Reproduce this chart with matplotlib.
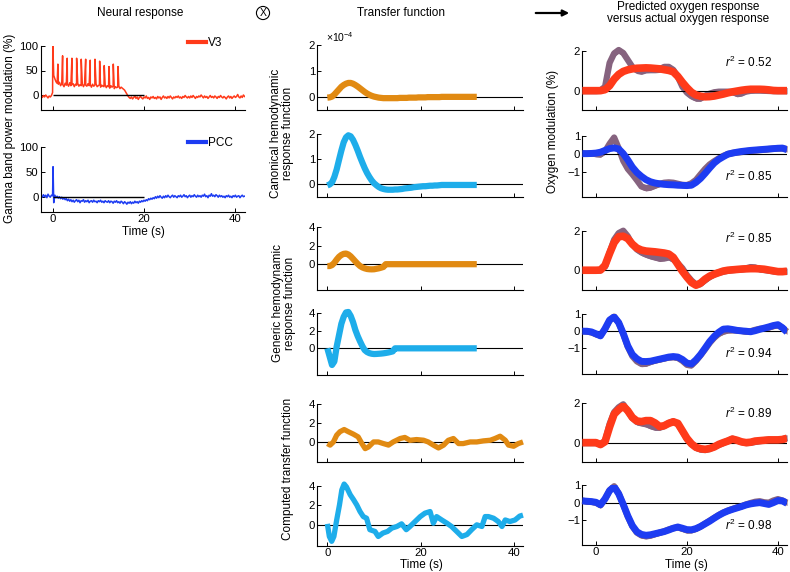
import matplotlib.pyplot as plt
import numpy as np
from matplotlib.lines import Line2D
from matplotlib.patches import FancyArrowPatch

plt.rcParams['font.family'] = ['Liberation Sans', 'DejaVu Sans']
plt.rcParams['mathtext.fontset'] = 'custom'
plt.rcParams['mathtext.rm'] = 'Liberation Sans'
plt.rcParams['mathtext.it'] = 'Liberation Sans:italic'

# ---------------- data ----------------
# neural gamma-band responses, sampled every 0.25 s from -2.5 to 42 s
neural_t = np.arange(-2.5, 42.01, 0.25)
v3_vals = [-2, -5, -1, -4, 0, -3, -6, -2, -4, -1,
           5, 40, 33, 27, 24, 22, 26, 19, 23, 21, 17, 24, 20, 22, 18, 25, 19, 21, 23, 17,
           22, 20, 24, 18, 21, 19, 23, 17, 22, 20, 18, 23, 19, 21, 16, 22, 18, 20, 23, 17,
           19, 21, 16, 20, 18, 17, 21, 15, 19, 17, 14, 19, 16, 18, 13, 17, 15, 16, 18, 13,
           16, 14, 12, 10,
           6, 2, -2, -5, -7,
           -4, -8, -5, -2, -7, -4, -9, -5, -3, -6,
           -8, -4, -6, -2, -7, -5, -9, -4, -6, -3,
           -7, -5, -8, -3, -6, -4, -9, -5, -2, -6,
           -4, -7, -3, -6, -2, -5, -8, -4, -6, -3,
           -5, -2, -6, -4, -7, -3, -5, -1, -4, -6,
           -3, -6, -2, -5, -1, -4, -7, -3, -5, -2,
           -4, 0, -3, -6, -2, -5, -3, -7, -4, -1,
           -5, -3, -6, -2, -4, -7, -3, -5, -1, -4,
           -6, -3, -5, -8, -4, -2, -6, -3, -7, -4,
           -2, -5, -3, 1, -4, -6, -2, -5, 0, -3]
v3_spike_t = [0.05, 1.16, 2.19, 3.2, 4.23, 5.26, 6.27, 7.24, 8.24, 9.27, 10.3, 11.3, 12.34, 13.28, 14.31]
v3_spike_h = [105, 63, 80, 75, 75, 75, 73, 73, 71, 73, 69, 60, 58, 63, 58]

pcc_vals = [2, -1, 4, 0, 3, -2, 5, 1, -1, 3,
            2, -12, 3, -2, 1, -3, 0, -4, -1, -5, -2, -6, -4, -8, -5, -9, -6, -10, -7, -11,
            -8, -6, -10, -7, -12, -8, -9, -6, -11, -8, -10, -7, -12, -9, -8, -11, -7, -10, -9, -12,
            -8, -10, -7, -11, -9, -12, -8, -10, -11, -8, -12, -9, -10, -13, -9, -11, -8, -12, -10, -13,
            -9, -11, -14, -10,
            -12, -15, -11, -13, -10,
            -14, -11, -13, -9, -12, -10, -13, -9, -11, -8,
            -10, -7, -9, -6, -8, -4, -6, -3, -5, -2,
            -4, 0, -3, 1, -2, 2, -1, -3, 1, -2,
            2, -1, 3, 0, -2, 1, 3, -1, 2, 0,
            -2, 2, 0, 3, -1, 1, 4, 0, 2, -2,
            1, 3, -1, 2, 0, 4, 1, -1, 3, 0,
            2, -1, 3, 1, 5, 0, 2, -2, 3, 1,
            6, 1, 3, 0, 4, 2, -1, 3, 0, 2,
            -1, 1, -2, 2, 0, 3, -1, 1, -2, 2,
            0, 3, -1, 1, 2, -2, 1, 3, 0, 1]
pcc_spike_t = [0.1]
pcc_spike_h = [60]
stim_on, stim_off = 0, 20

# transfer functions (0.5 s steps, 0..32 s)
hrf_t = np.arange(0, 32.01, 0.5)
canon_v3 = [-0.04, -0.03, 0.0, 0.08, 0.18, 0.28, 0.38, 0.45, 0.5, 0.53,
            0.53, 0.5, 0.45, 0.39, 0.32, 0.25, 0.18, 0.12, 0.07, 0.03,
            0.0, -0.02, -0.04, -0.05, -0.06,
            -0.06, -0.06, -0.06, -0.06, -0.06, -0.06,
            -0.05, -0.05, -0.05, -0.05,
            -0.04, -0.04, -0.04, -0.04,
            -0.03, -0.03, -0.03, -0.03,
            -0.02, -0.02, -0.02, -0.02, -0.02, -0.02,
            -0.01, -0.01, -0.01, -0.01, -0.01, -0.01, -0.01, -0.01,
            -0.01, -0.01, -0.01, -0.01, -0.01, -0.01, -0.01, -0.01]
canon_pcc = [-0.04, 0.0, 0.08, 0.3, 0.6, 0.98, 1.35, 1.68, 1.88, 1.96,
             1.92, 1.78, 1.58, 1.35, 1.1, 0.87, 0.65, 0.46, 0.3, 0.16,
             0.05, -0.03, -0.1, -0.15, -0.18, -0.2, -0.21, -0.21, -0.21, -0.2,
             -0.2, -0.19, -0.18, -0.16, -0.15, -0.14, -0.13, -0.11, -0.1, -0.09,
             -0.08, -0.07, -0.07, -0.06, -0.05, -0.05, -0.04, -0.04, -0.03,
             -0.02, -0.02, -0.02, -0.02, -0.02, -0.02, -0.02, -0.02,
             -0.02, -0.02, -0.02, -0.02, -0.02, -0.02, -0.02, -0.02]
generic_v3 = [-0.2, -0.2, -0.1, 0.15, 0.5, 0.8, 1.0, 1.12, 1.15, 1.05,
              0.85, 0.58, 0.3, 0.03, -0.2, -0.35, -0.45, -0.52, -0.55, -0.56,
              -0.55, -0.5, -0.45, -0.38, -0.3,
              0, 0, 0, 0, 0, 0, 0, 0, 0, 0, 0, 0, 0, 0, 0, 0, 0, 0, 0, 0,
              0, 0, 0, 0, 0, 0, 0, 0, 0, 0, 0, 0, 0, 0, 0, 0, 0, 0, 0, 0]
generic_pcc = [0, -0.95, -1.9, -1.5, 0.2, 1.5, 2.8, 3.6, 4.1, 4.15,
               3.7, 3.0, 2.1, 1.4, 0.8, 0.25, -0.2, -0.42, -0.55, -0.62,
               -0.65, -0.64, -0.62, -0.6, -0.57, -0.53, -0.48, -0.42, -0.35,
               0, 0, 0, 0, 0, 0, 0, 0, 0, 0, 0, 0, 0, 0, 0, 0, 0, 0,
               0, 0, 0, 0, 0, 0, 0, 0, 0, 0, 0, 0, 0, 0, 0, 0, 0, 0]
comp_v3_t = [0, 0.6, 1.3, 2.0, 2.7, 3.6, 4.5, 5.6, 6.6, 7.4, 8.1, 8.8, 9.9, 10.9, 12.0,
             13.1, 14.1, 15.6, 16.6, 17.7, 19.1, 20.6, 21.6, 22.7, 23.8, 24.9, 25.9, 27.0,
             28.1, 29.1, 30.6, 32.0, 33.4, 34.9, 35.9, 37.0, 38.1, 38.8, 39.9, 40.9, 41.9]
comp_v3 = [-0.14, -0.3, 0.03, 0.74, 1.1, 1.33, 1.1, 0.84, 0.56, -0.14, -0.67, -0.5, 0.03, 0.03, -0.14,
           -0.3, 0.03, 0.39, 0.5, 0.2, 0.28, 0.21, 0.03, -0.3, -0.6, -0.3, 0.2, 0.39,
           -0.14, -0.14, 0.03, 0.03, 0.14, 0.21, 0.39, 0.63, 0.21, -0.3, -0.42, -0.14, 0.03]
comp_pcc_t = [0, 0.43, 0.93, 1.4, 2.0, 2.6, 3.1, 3.6, 4.1, 4.9, 5.6, 6.3, 7.0, 7.7, 8.4,
              9.1, 10.2, 10.9, 11.9, 12.9, 13.8, 14.9, 15.9, 16.9, 17.7, 18.8, 19.9, 20.9,
              22.0, 22.7, 23.4, 24.5, 25.6, 26.6, 27.7, 28.8, 29.9, 30.9, 32.0, 33.1, 33.8,
              34.5, 35.6, 36.6, 37.4, 38.1, 39.1, 40.2, 41.2, 41.9]
comp_pcc = [0.1, -1.2, -1.7, -1.2, 0.5, 2.05, 3.6, 4.2, 3.9, 3.1, 2.6, 2.05, 1.37, 0.85, 0.68,
            -0.5, -0.68, -1.2, -0.85, -0.68, -0.34, -0.17, 0.1, -0.5, -0.17, 0.34, 0.85, 1.2,
            1.37, 0.17, 0.85, 0.5, 0.17, -0.17, -0.68, -1.2, -1.0, -0.5, 0.0, -0.17, 0.85,
            0.85, 0.68, 0.34, -0.17, 0.5, 0.34, 0.5, 0.9, 1.0]

# oxygen responses (1 s steps, -3..42 s): predicted and measured
oxy_t = np.arange(-3, 43)
pred_canon_v3 = [0, 0, 0, 0, 0, 0.05, 0.25, 0.58, 0.82, 0.97,
                 1.05, 1.1, 1.13, 1.14, 1.15, 1.14, 1.12, 1.1, 1.06, 1.02,
                 0.95, 0.72, 0.42, 0.15, -0.08, -0.22, -0.28, -0.31, -0.3, -0.27,
                 -0.22, -0.17, -0.11, -0.06, -0.02, 0.02, 0.05, 0.07, 0.07, 0.07,
                 0.06, 0.04, 0.01, 0, 0, 0]
meas_v3 = [0, 0, 0, 0, 0.02, 0.2, 1.4, 1.88, 2.05, 1.9,
           1.55, 1.2, 1.02, 0.98, 1.05, 1.06, 1.06, 1.08, 1.2, 1.2,
           1.05, 0.7, 0.2, -0.1, -0.28, -0.38, -0.38, -0.25, -0.15, -0.08,
           -0.05, -0.05, -0.05, -0.06, -0.15, -0.12, -0.02, 0.02, 0.03, 0.03,
           0.02, 0.01, 0, 0, 0, 0]
pred_canon_pcc = [0, 0, 0.01, 0.03, 0.08, 0.18, 0.28, 0.32, 0.26, 0.0,
                  -0.35, -0.75, -1.05, -1.27, -1.45, -1.57, -1.64, -1.68, -1.71, -1.73,
                  -1.74, -1.76, -1.77, -1.78, -1.76, -1.6, -1.38, -1.1, -0.8, -0.52,
                  -0.32, -0.17, -0.03, 0.03, 0.08, 0.12, 0.15, 0.18, 0.2, 0.22,
                  0.24, 0.26, 0.28, 0.3, 0.31, 0.22]
meas_pcc = [0.02, 0.0, 0.02, -0.02, -0.04, 0.13, 0.55, 0.9, 0.3, -0.4,
            -0.85, -1.15, -1.48, -1.83, -1.92, -1.88, -1.78, -1.68, -1.62, -1.6,
            -1.62, -1.68, -1.74, -1.75, -1.65, -1.46, -1.15, -0.85, -0.6, -0.42,
            -0.26, -0.12, -0.02, 0.04, 0.08, 0.1, 0.14, 0.17, 0.19, 0.21,
            0.23, 0.26, 0.28, 0.3, 0.3, 0.25]
pred_generic_v3 = [0, 0, 0, 0, 0.01, 0.25, 0.85, 1.4, 1.7, 1.72,
                   1.6, 1.32, 1.12, 1.02, 0.97, 0.95, 0.93, 0.9, 0.87, 0.82,
                   0.65, 0.3, -0.05, -0.35, -0.62, -0.76, -0.65, -0.45, -0.3, -0.2,
                   -0.12, -0.04, 0.0, 0.02, 0.04, 0.06, 0.07, 0.08, 0.08, 0.07,
                   0.05, 0.01, -0.03, -0.07, -0.07, -0.05]
meas_v3_b = [0, 0, 0, 0, 0.02, 0.18, 0.9, 1.55, 1.88, 2.0,
             1.72, 1.3, 1.05, 0.9, 0.8, 0.72, 0.66, 0.6, 0.62, 0.67,
             0.55, 0.35, 0.1, -0.25, -0.52, -0.72, -0.68, -0.5, -0.33, -0.2,
             -0.1, -0.05, 0.0, 0.03, 0.05, 0.06, 0.1, 0.16, 0.14, 0.06,
             0.03, 0.0, -0.04, -0.06, -0.06, -0.05]
pred_generic_pcc = [0, 0, -0.04, -0.15, -0.27, 0.15, 0.65, 0.83, 0.5, -0.13,
                    -0.85, -1.35, -1.6, -1.75, -1.76, -1.74, -1.68, -1.62, -1.56, -1.5,
                    -1.47, -1.5, -1.64, -1.85, -1.9, -1.66, -1.35, -0.98, -0.6, -0.3,
                    -0.06, 0.12, 0.14, 0.1, 0.05, 0.02, 0.0, -0.03, 0.03, 0.11,
                    0.18, 0.25, 0.33, 0.38, 0.2, -0.05]
meas_pcc_b = [0.02, -0.02, -0.06, -0.18, -0.25, 0.12, 0.62, 0.85, 0.48, -0.15,
              -0.9, -1.45, -1.75, -1.9, -1.88, -1.78, -1.7, -1.64, -1.58, -1.52,
              -1.5, -1.55, -1.72, -1.95, -1.98, -1.72, -1.4, -1.05, -0.68, -0.38,
              -0.15, -0.02, 0.05, 0.06, 0.05, 0.02, -0.02, 0.0, 0.08, 0.14,
              0.16, 0.22, 0.3, 0.35, 0.2, -0.02]
pred_comp_v3 = [0, 0, 0, 0, -0.1, 0.05, 0.8, 1.45, 1.68, 1.86,
                1.62, 1.28, 1.1, 1.07, 1.12, 1.12, 1.0, 0.82, 0.86, 0.98,
                1.06, 0.98, 0.6, 0.22, -0.06, -0.24, -0.31, -0.34, -0.3, -0.22,
                -0.09, 0.0, 0.08, 0.18, 0.12, 0.04, 0.0, 0.02, 0.08, 0.1,
                0.12, 0.14, 0.14, 0.14, 0.16, 0.22]
meas_v3_c = [0, 0, 0, 0, -0.08, 0.08, 0.95, 1.55, 1.8, 1.95,
             1.6, 1.25, 1.05, 1.0, 0.95, 0.85, 0.78, 0.78, 0.86, 1.0,
             1.08, 0.95, 0.58, 0.18, -0.08, -0.26, -0.34, -0.35, -0.3, -0.2,
             -0.1, 0.0, 0.1, 0.2, 0.12, 0.04, 0.0, 0.02, 0.06, 0.1,
             0.13, 0.15, 0.14, 0.15, 0.18, 0.24]
pred_comp_pcc = [0.1, 0.08, 0.06, 0.02, -0.12, 0.22, 0.68, 0.9, 0.5, -0.1,
                 -0.75, -1.3, -1.65, -1.8, -1.85, -1.82, -1.76, -1.7, -1.64, -1.55,
                 -1.45, -1.38, -1.45, -1.53, -1.54, -1.47, -1.35, -1.2, -1.05, -0.88,
                 -0.72, -0.58, -0.47, -0.38, -0.3, -0.22, -0.13, -0.07, -0.03, 0.0,
                 -0.05, -0.1, 0.0, 0.12, 0.1, -0.04]
meas_pcc_c = [0.12, 0.06, 0.05, 0.0, -0.15, 0.2, 0.7, 0.93, 0.52, -0.12,
              -0.78, -1.34, -1.7, -1.86, -1.9, -1.86, -1.78, -1.7, -1.62, -1.52,
              -1.44, -1.4, -1.48, -1.57, -1.56, -1.48, -1.35, -1.18, -1.02, -0.86,
              -0.7, -0.56, -0.45, -0.36, -0.27, -0.2, -0.1, -0.02, 0.05, 0.08,
              0.02, 0.0, 0.12, 0.2, 0.12, 0.0]
r2_vals = ['0.52', '0.85', '0.85', '0.94', '0.89', '0.98']

# ---------------- styling ----------------
RED = '#ff3a1a'
BLUE = '#1d3cf2'
ORANGE = '#e18a12'
LBLUE = '#1eadea'
PURPLE = '#86637f'

W, H = 790, 572
fig = plt.figure(figsize=(W / 100, H / 100), dpi=100)


def px_axes(left, top, right, bottom, xlim, ylim, yticks, xlabels=False):
    ax = fig.add_axes([left / W, 1 - bottom / H, (right - left) / W, (bottom - top) / H])
    ax.spines[['top', 'right']].set_visible(False)
    ax.spines[['left', 'bottom']].set_linewidth(0.8)
    ax.set_xlim(*xlim)
    ax.set_ylim(*ylim)
    ax.set_xticks([0, 20, 40])
    ax.set_yticks(yticks)
    if not xlabels:
        ax.set_xticklabels([])
    ax.tick_params(direction='in', length=3, width=0.7, labelsize=8.2, pad=1.5)
    ax.patch.set_alpha(0)
    return ax


def ftext(x, y, s, **kw):
    return fig.text(x / W, 1 - y / H, s, **kw)


def merged(base_t, base_v, spk_t, spk_h):
    t = np.concatenate([base_t, spk_t])
    v = np.concatenate([base_v, spk_h])
    order = np.argsort(t, kind='stable')
    return t[order], v[order]


# ---- neural response column ----
neural_xlim = (-2.6, 42.1)
ax = px_axes(40.7, 46, 245, 109.7, neural_xlim, (-30, 100), [0, 50, 100])
t, v = merged(neural_t, np.array(v3_vals, float), v3_spike_t, v3_spike_h)
ax.plot(t, v, color=RED, lw=1.1)
ax.hlines(0, stim_on, stim_off, color='k', lw=1.0, zorder=3)
ax.legend(handles=[Line2D([], [], color=RED, lw=3)], labels=['V3'], loc='center left',
          bbox_to_anchor=(188 / W, 1 - 43 / H), bbox_transform=fig.transFigure,
          frameon=False, fontsize=8.5, handlelength=1.5, handletextpad=0.2,
          borderpad=0, borderaxespad=0)

ax = px_axes(40.7, 146.7, 245, 211.7, neural_xlim, (-30, 100), [0, 50, 100], xlabels=True)
t, v = merged(neural_t, np.array(pcc_vals, float), pcc_spike_t, pcc_spike_h)
ax.plot(t, v, color=BLUE, lw=1.1)
ax.hlines(0, stim_on, stim_off, color='k', lw=1.0, zorder=3)
ax.legend(handles=[Line2D([], [], color=BLUE, lw=3)], labels=['PCC'], loc='center left',
          bbox_to_anchor=(188 / W, 1 - 143 / H), bbox_transform=fig.transFigure,
          frameon=False, fontsize=8.5, handlelength=1.5, handletextpad=0.2,
          borderpad=0, borderaxespad=0)

# ---- transfer function column ----
mid_xlim = (-2.15, 41.9)
mid_specs = [
    ((45, 109.5), (-0.5, 2), [0, 1, 2], hrf_t, canon_v3, ORANGE, 4.5),
    ((134.3, 197), (-0.5, 2), [0, 1, 2], hrf_t, canon_pcc, LBLUE, 4.5),
    ((227.3, 290), (-2.8, 4), [0, 2, 4], hrf_t, generic_v3, ORANGE, 4.5),
    ((313.3, 374.6), (-3, 4), [0, 2, 4], hrf_t, generic_pcc, LBLUE, 4.5),
    ((404, 462.3), (-2.1, 4), [0, 2, 4], comp_v3_t, comp_v3, ORANGE, 3.8),
    ((486, 545.7), (-2.15, 4), [0, 2, 4], comp_pcc_t, comp_pcc, LBLUE, 3.8),
]
for i, ((top, bot), ylim, yt, tt, vv, col, lw) in enumerate(mid_specs):
    ax = px_axes(317.3, top, 523, bot, mid_xlim, ylim, yt, xlabels=(i == 5))
    ax.axhline(0, color='k', lw=0.8, zorder=1)
    ax.plot(tt, vv, color=col, lw=lw, solid_capstyle='butt', solid_joinstyle='round',
            zorder=2, clip_on=False)

# ---- predicted vs measured oxygen column ----
right_xlim = (-3, 42)
right_specs = [
    ((51, 110.5), (-1, 2), [0, 2], pred_canon_v3, meas_v3, RED, 5.5, 62),
    ((135.7, 196.7), (-2.4, 1), [-1, 0, 1], pred_canon_pcc, meas_pcc, BLUE, 5.0, 176),
    ((230.7, 290), (-1, 2), [0, 2], pred_generic_v3, meas_v3_b, RED, 5.5, 238),
    ((314, 374.3), (-2.5, 1), [-1, 0, 1], pred_generic_pcc, meas_pcc_b, BLUE, 5.0, 353),
    ((403.3, 462.3), (-1, 2), [0, 2], pred_comp_v3, meas_v3_c, RED, 5.5, 413),
    ((485, 545), (-2.4, 1), [-1, 0, 1], pred_comp_pcc, meas_pcc_c, BLUE, 5.0, 525),
]
for i, ((top, bot), ylim, yt, pred, meas, col, lw, r2y) in enumerate(right_specs):
    ax = px_axes(582.3, top, 787, bot, right_xlim, ylim, yt, xlabels=(i == 5))
    meas = np.array(meas)
    ax.fill_between(oxy_t, meas - 0.16, meas + 0.16, color=PURPLE, lw=0, zorder=1, clip_on=False)
    ax.plot(oxy_t, meas, color=PURPLE, lw=4.5, solid_capstyle='butt', zorder=1, clip_on=False)
    ax.axhline(0, color='k', lw=0.8, zorder=2)
    ax.plot(oxy_t, pred, color=col, lw=lw, solid_capstyle='butt', solid_joinstyle='round', zorder=3)
    ftext(749, r2y, r'$\mathit{r}^2$ = ' + r2_vals[i], fontsize=8.5, ha='center', va='center')

# ---- labels and headings ----
ftext(140, 13, 'Neural response', fontsize=8.5, ha='center', va='center')
ftext(401, 13, 'Transfer function', fontsize=8.5, ha='center', va='center')
ftext(688, 13, 'Predicted oxygen response\nversus actual oxygen response', fontsize=8.5,
      ha='center', va='center', linespacing=1.1)
ftext(263, 13, 'X', fontsize=7.5, ha='center', va='center',
      bbox=dict(boxstyle='circle,pad=0.15', fc='none', ec='k', lw=0.8))
fig.add_artist(FancyArrowPatch((533 / W, 1 - 13 / H), (572 / W, 1 - 13 / H),
                               transform=fig.transFigure, arrowstyle='-|>',
                               mutation_scale=9, lw=1.6, color='k'))

ftext(10, 128, 'Gamma band power modulation (%)', fontsize=8.5, rotation=90, ha='center', va='center')
ftext(282, 133, 'Canonical hemodynamic\nresponse function', fontsize=8.5, rotation=90,
      ha='center', va='center', linespacing=1.1)
ftext(284, 303, 'Generic hemodynamic\nresponse function', fontsize=8.5, rotation=90,
      ha='center', va='center', linespacing=1.1)
ftext(288, 469, 'Computed transfer function', fontsize=8.5, rotation=90, ha='center', va='center')
ftext(553, 131, 'Oxygen modulation (%)', fontsize=8.5, rotation=90, ha='center', va='center')
ftext(326, 37, '×10$^{-4}$', fontsize=7.5, ha='left', va='center')

ftext(143, 232, 'Time (s)', fontsize=8.5, ha='center', va='center')
ftext(421, 565, 'Time (s)', fontsize=8.5, ha='center', va='center')
ftext(686, 565, 'Time (s)', fontsize=8.5, ha='center', va='center')

fig.savefig('out.png', dpi=100)
